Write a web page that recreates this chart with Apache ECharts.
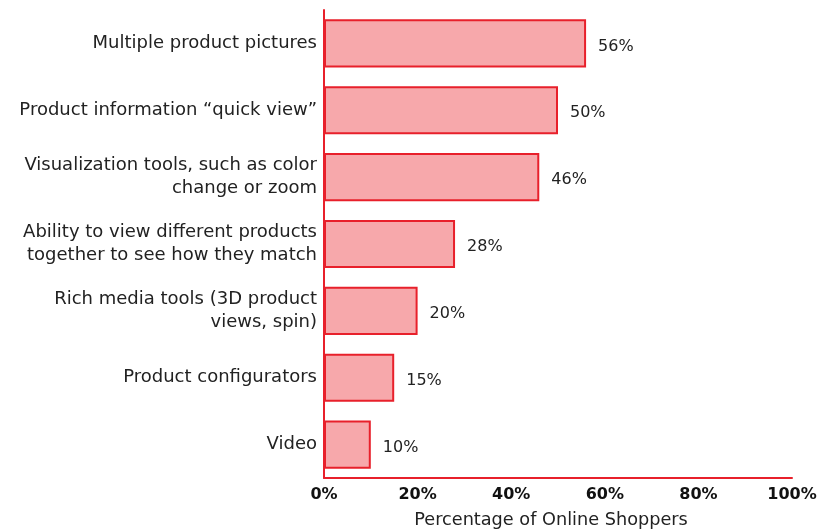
<!DOCTYPE html>
<html>
<head>
<meta charset="UTF-8">
<title>Online shopper features</title>
<script src="https://cdn.jsdelivr.net/npm/echarts@6/dist/echarts.min.js"></script>
<style>
  html, body { margin: 0; padding: 0; background: #fff; }
  #main { width: 822px; height: 531px; }
</style>
</head>
<body>
<div id="main"></div>
<script>
// categories, top to bottom
var categories = [
    'Multiple product pictures',
    'Product information \u201cquick view\u201d',
    'Visualization tools, such as color\nchange or zoom',
    'Ability to view different products\ntogether to see how they match',
    'Rich media tools (3D product\nviews, spin)',
    'Product configurators',
    'Video'
];
var shares = [56, 50, 46, 28, 20, 15, 10];

var red = '#e8202b';

var option = {
    animation: false,
    textStyle: { fontFamily: '"DejaVu Sans", sans-serif' },
    grid: { left: 324, right: 30, top: 10, bottom: 53, outerBoundsMode: 'none' },
    xAxis: {
        type: 'value',
        min: 0,
        max: 100,
        interval: 20,
        axisLine: { show: true, lineStyle: { color: red, width: 2 } },
        axisTick: { show: false },
        splitLine: { show: false },
        axisLabel: {
            formatter: '{value}%',
            color: '#111',
            fontWeight: 'bold',
            fontSize: 16,
            margin: 9
        },
        name: 'Percentage of Online Shoppers',
        nameLocation: 'middle',
        nameGap: 33,
        nameTextStyle: { color: '#222', fontSize: 17.7, padding: [0, 14, 0, 0] }
    },
    yAxis: {
        type: 'category',
        inverse: true,
        data: categories,
        axisLine: { show: true, lineStyle: { color: red, width: 2 } },
        axisTick: { show: false },
        axisLabel: {
            color: '#222',
            fontSize: 18,
            lineHeight: 23,
            margin: 7,
            align: 'right',
            padding: [5, 0, 0, 0]
        }
    },
    series: [{
        type: 'bar',
        data: shares,
        barCategoryGap: '28%',
        itemStyle: {
            color: '#f7a8ab',
            borderColor: red,
            borderWidth: 2
        },
        label: {
            show: true,
            position: 'right',
            distance: 12,
            formatter: '{c}%',
            color: '#222',
            fontSize: 16,
            offset: [0, 3]
        }
    }]
};

var myChart = echarts.init(document.getElementById('main'));
myChart.setOption(option);
</script>
</body>
</html>
